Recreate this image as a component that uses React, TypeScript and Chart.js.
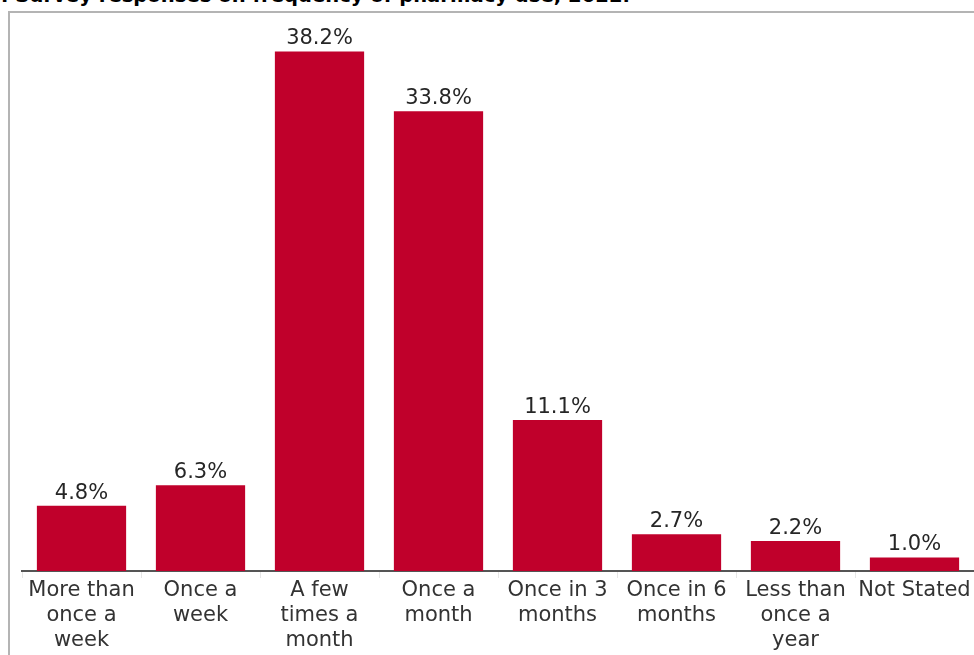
import React, { useEffect, useRef } from "react";
import { Chart, registerables } from "chart.js";

Chart.register(...registerables);

const categories: string[][] = [
  ["More than", "once a", "week"],
  ["Once a", "week"],
  ["A few", "times a", "month"],
  ["Once a", "month"],
  ["Once in 3", "months"],
  ["Once in 6", "months"],
  ["Less than", "once a", "year"],
  ["Not Stated"],
];
const values: number[] = [4.8, 6.3, 38.2, 33.8, 11.1, 2.7, 2.2, 1.0];
const titleText = "Figure 1: Survey responses on frequency of pharmacy use, 2022.";

const BAR_COLOR = "#C0002B";

const valueLabels = {
  id: "valueLabels",
  afterDatasetsDraw(chart: any) {
    const ctx = chart.ctx;
    const meta = chart.getDatasetMeta(0);
    ctx.save();
    ctx.font = '21px "DejaVu Sans"';
    ctx.fillStyle = "#262626";
    ctx.textAlign = "center";
    ctx.textBaseline = "alphabetic";
    meta.data.forEach((bar: any, i: number) => {
      ctx.fillText(values[i].toFixed(1) + "%", bar.x, bar.y - 7);
    });
    ctx.restore();
  },
};

export default function App() {
  const ref = useRef<HTMLCanvasElement>(null);
  useEffect(() => {
    if (!ref.current) return;
    const chart = new Chart(ref.current, {
      type: "bar",
      data: {
        labels: categories,
        datasets: [
          {
            data: values,
            backgroundColor: BAR_COLOR,
            borderWidth: 0,
            categoryPercentage: 1,
            barPercentage: 0.75,
          },
        ],
      },
      options: {
        responsive: false,
        animation: false,
        devicePixelRatio: 1,
        layout: { padding: { left: 12, right: 0, top: 14, bottom: 0 } },
        plugins: {
          legend: { display: false },
          tooltip: { enabled: false },
          title: { display: false },
        },
        scales: {
          x: {
            offset: true,
            grid: {
              display: true,
              offset: true,
              drawOnChartArea: false,
              drawTicks: true,
              tickLength: 7,
              color: "#e6e6e6",
            },
            border: { display: true, color: "#555555", width: 2 },
            ticks: {
              autoSkip: false,
              maxRotation: 0,
              minRotation: 0,
              padding: 0,
              color: "#333333",
              font: { family: '"DejaVu Sans"', size: 21, lineHeight: 1.2 },
            },
            afterFit: (scale: any) => {
              scale.height = 84;
            },
          },
          y: {
            display: false,
            min: 0,
            max: 40,
          },
        },
      },
      plugins: [valueLabels],
    });
    return () => chart.destroy();
  }, []);

  return (
    <div
      style={{
        position: "fixed",
        left: 0,
        top: 0,
        width: 974,
        height: 655,
        overflow: "hidden",
        background: "#ffffff",
      }}
    >
      <div
        style={{
          position: "absolute",
          right: 344,
          top: -14,
          whiteSpace: "nowrap",
          font: 'bold 19.6px "DejaVu Sans"',
          lineHeight: "19px",
          color: "#000000",
        }}
      >
        {titleText}
      </div>
      <div
        style={{
          position: "absolute",
          left: 8,
          top: 11,
          width: 1000,
          height: 700,
          border: "2px solid #b4b4b4",
          boxSizing: "border-box",
        }}
      />
      <canvas
        ref={ref}
        width={964}
        height={642}
        style={{ position: "absolute", left: 10, top: 13, width: 964, height: 642 }}
      />
    </div>
  );
}
